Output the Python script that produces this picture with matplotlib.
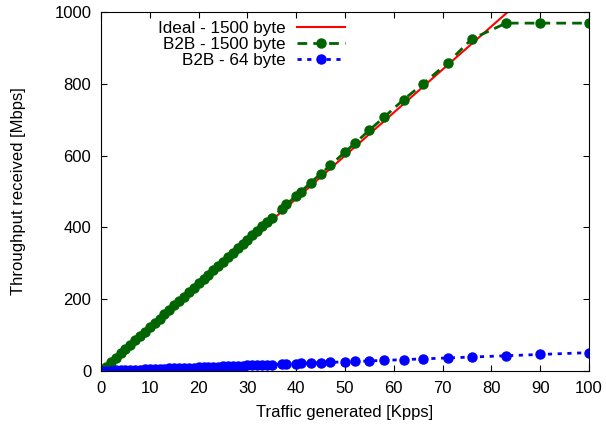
import matplotlib
matplotlib.use("Agg")
import matplotlib.pyplot as plt

plt.rcParams['font.family'] = ['Liberation Sans', 'DejaVu Sans']

# traffic generated [Kpps]
kpps = [0, 1, 2, 3, 4, 5, 6, 7, 8, 9, 10, 11, 12, 13, 14, 15, 16, 17, 18,
        19, 20, 21, 22, 23, 24, 25, 26, 27, 28, 29, 30, 31, 32, 33, 34, 35,
        37, 38, 40, 41, 43, 45, 47, 50, 52, 55, 58, 62, 66, 71, 76, 83, 90, 100]

# throughput received [Mbps]
b2b_1500 = [0, 12, 24, 37, 49, 61, 73, 85, 98, 110, 122, 134, 146, 159, 171,
            183, 195, 207, 220, 232, 244, 256, 268, 281, 293, 305, 317, 329,
            342, 354, 366, 378, 390, 403, 415, 427, 451, 464, 488, 500, 525,
            549, 573, 610, 634, 671, 707, 756, 800, 858, 925, 969, 969, 969]
b2b_64 = [0, 0.5, 1, 1.5, 2, 2.6, 3.1, 3.6, 4.1, 4.6, 5.1, 5.6, 6.1, 6.7, 7.2,
          7.7, 8.2, 8.7, 9.2, 9.7, 10.2, 10.8, 11.3, 11.8, 12.3, 12.8, 13.3,
          13.8, 14.3, 14.8, 15.4, 15.9, 16.4, 16.9, 17.4, 17.9, 18.9, 19.5,
          20.5, 21, 22, 23, 24.1, 25.6, 26.6, 28.2, 29.7, 31.7, 33.8, 36.4,
          38.9, 42.5, 46.1, 51.2]

ideal_x = [0, 100]
ideal_y = [0, 1200]

fig = plt.figure(figsize=(6.06, 4.26), dpi=100)
ax = fig.add_axes([0.1667, 0.1291, 0.8053, 0.8427])

ax.plot(ideal_x, ideal_y, color='#ff0000', lw=1.5, label='Ideal - 1500 byte')
ax.plot(kpps, b2b_1500, color='#006400', lw=2, ls=(0, (3.5, 2.2)),
        marker='o', ms=6.5, label='B2B - 1500 byte')
ax.plot(kpps, b2b_64, color='#0000ff', lw=2, ls=(0, (1.5, 2)),
        marker='o', ms=6.5, label='B2B - 64 byte')

ax.set_xlim(0, 100)
ax.set_ylim(0, 1000)
ax.set_xticks(range(0, 101, 10))
ax.set_yticks(range(0, 1001, 200))
ax.tick_params(direction='in', top=True, right=True, length=4, labelsize=12, pad=7)
ax.set_xlabel('Traffic generated [Kpps]', fontsize=12)
ax.set_ylabel('Throughput received [Mbps]', fontsize=12)
ax.xaxis.set_label_coords(0.5, -0.094)
ax.yaxis.set_label_coords(-0.153, 0.5)

ax.legend(loc='upper right', bbox_to_anchor=(0.5, 0.975), markerfirst=False,
          frameon=False, fontsize=12.3, handlelength=2.8, handletextpad=0.65,
          labelspacing=0.05, borderpad=0, borderaxespad=0)

fig.savefig('out.png', dpi=100)
